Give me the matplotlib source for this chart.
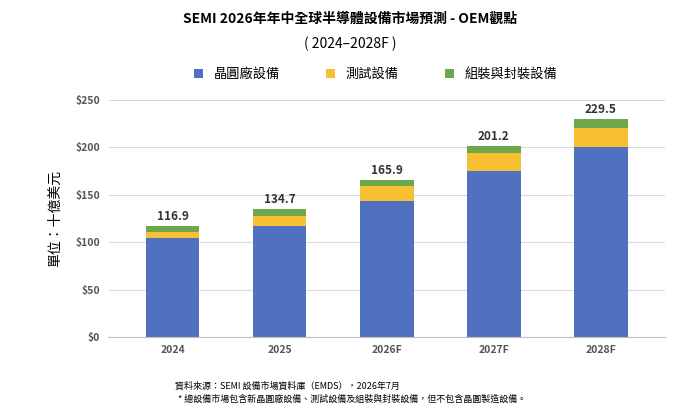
import matplotlib.pyplot as plt

plt.rcParams['font.family'] = ['Noto Sans CJK TC', 'DejaVu Sans']

years = ['2024', '2025', '2026F', '2027F', '2028F']
wafer = [104.0, 116.5, 143.5, 175.0, 200.0]
test = [7.0, 11.5, 15.5, 18.5, 20.5]
totals = [116.9, 134.7, 165.9, 201.2, 229.5]
assembly = [t - w - s for t, w, s in zip(totals, wafer, test)]

c_blue = '#4f71c0'
c_yellow = '#f7c033'
c_green = '#6fa84a'

fig = plt.figure(figsize=(7, 4.16), dpi=100)
ax = fig.add_axes([0.155, 0.19, 0.795, 0.57])

x = range(len(years))
w = 0.5
ax.bar(x, wafer, w, color=c_blue, label='晶圓廠設備', zorder=2)
ax.bar(x, test, w, bottom=wafer, color=c_yellow, label='測試設備', zorder=2)
bot = [a + b for a, b in zip(wafer, test)]
ax.bar(x, assembly, w, bottom=bot, color=c_green, label='組裝與封裝設備', zorder=2)

for i, t in enumerate(totals):
    ax.text(i, t + 3, f'{t:.1f}', ha='center', va='bottom', fontsize=8.5, fontweight='bold', color='#333333')

ax.set_ylim(0, 250)
ax.set_yticks(range(0, 251, 50))
ax.set_yticklabels([f'${v}' for v in range(0, 251, 50)], fontsize=7.5, fontweight='bold', color='#555555')
ax.set_xticks(list(x))
ax.set_xticklabels(years, fontsize=7.5, fontweight='bold', color='#555555')
ax.set_xlim(-0.6, 4.6)
ax.grid(axis='y', color='#d9d9d9', linewidth=0.8, zorder=0)
for s in ['top', 'right', 'left']:
    ax.spines[s].set_visible(False)
ax.spines['bottom'].set_color('#bfbfbf')
ax.tick_params(length=0, pad=6)
ax.set_ylabel('單位：十億美元', fontsize=10, labelpad=10)

fig.text(0.5, 0.945, 'SEMI 2026年年中全球半導體設備市場預測 - OEM觀點', ha='center', fontsize=10, fontweight='bold')
fig.text(0.5, 0.885, '( 2024–2028F )', ha='center', fontsize=10)
ax.legend(loc='lower center', bbox_to_anchor=(0.48, 1.03), ncol=3, frameon=False,
          fontsize=9.5, handlelength=0.7, handleheight=0.7, columnspacing=3.5)

fig.text(0.25, 0.065, '資料來源：SEMI 設備市場資料庫（EMDS），2026年7月', fontsize=6.5)
fig.text(0.255, 0.035, '* 總設備市場包含新晶圓廠設備、測試設備及組裝與封裝設備，但不包含晶圓製造設備。', fontsize=6.5)

fig.savefig('out.png', dpi=100)
